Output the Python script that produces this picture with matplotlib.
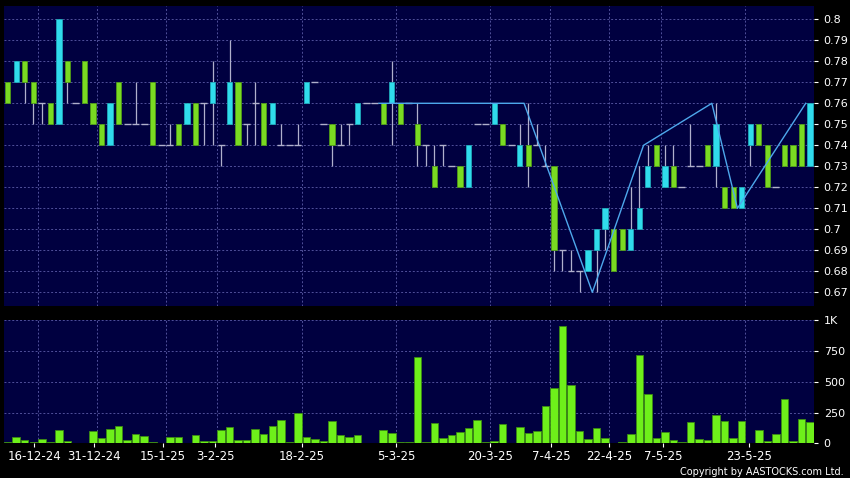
import numpy as np
import matplotlib.pyplot as plt

# daily candles (index = trading day)
opens = [.77, .77, .78, .77, .76, .76, .75, .78, .76, .78,
         .76, .75, .74, .77, .75, .75, .75, .77, .74, .74,
         .75, .75, .76, .76, .76, .74, .75, .77, .75, .76,
         .76, .75, .74, .74, .74, .76, .77, .75, .75, .74,
         .75, .75, .76, .76, .76, .76, .76, .76, .75, .74,
         .73, .74, .73, .73, .72, .75, .75, .75, .75, .74,
         .73, .74, .74, .73, .73, .69, .68, .68, .68, .69,
         .70, .70, .70, .69, .70, .72, .74, .72, .73, .72,
         .73, .73, .74, .73, .72, .72, .71, .74, .75, .74,
         .72, .74, .74, .75, .73]
highs = [.77, .78, .78, .77, .76, .76, .80, .78, .76, .78,
         .76, .75, .76, .77, .75, .77, .75, .77, .74, .75,
         .75, .76, .76, .76, .78, .74, .79, .77, .75, .77,
         .76, .76, .75, .74, .75, .77, .77, .75, .75, .75,
         .75, .76, .76, .76, .76, .78, .76, .76, .76, .74,
         .74, .74, .73, .73, .74, .75, .75, .76, .75, .74,
         .75, .76, .75, .74, .73, .69, .69, .68, .69, .70,
         .71, .70, .70, .72, .73, .74, .74, .74, .74, .72,
         .75, .73, .74, .76, .72, .72, .72, .75, .75, .74,
         .72, .74, .74, .75, .76]
lows = [.76, .77, .76, .75, .75, .75, .75, .76, .76, .76,
        .75, .74, .74, .75, .75, .75, .75, .74, .74, .74,
        .74, .75, .74, .74, .74, .73, .75, .74, .74, .74,
        .74, .75, .74, .74, .74, .76, .77, .75, .73, .74,
        .74, .75, .76, .76, .75, .74, .75, .76, .73, .73,
        .72, .73, .73, .72, .72, .75, .75, .75, .74, .74,
        .73, .72, .74, .73, .68, .68, .68, .67, .68, .67,
        .69, .68, .69, .69, .70, .72, .73, .72, .72, .72,
        .73, .73, .73, .72, .71, .71, .71, .73, .74, .72,
        .72, .73, .73, .73, .73]
closes = [.76, .78, .77, .76, .76, .75, .80, .77, .76, .76,
          .75, .74, .76, .75, .75, .75, .75, .74, .74, .74,
          .74, .76, .74, .76, .77, .74, .77, .74, .75, .76,
          .74, .76, .74, .74, .74, .77, .77, .75, .74, .74,
          .75, .76, .76, .76, .75, .77, .75, .76, .74, .74,
          .72, .74, .73, .72, .74, .75, .75, .76, .74, .74,
          .74, .73, .74, .73, .69, .69, .68, .68, .69, .70,
          .71, .68, .69, .70, .71, .73, .73, .73, .72, .72,
          .73, .73, .73, .75, .71, .71, .72, .75, .74, .72,
          .72, .73, .73, .73, .76]
volumes = [8, 51, 27, 11, 35, 11, 108, 19, 5, 5,
           97, 43, 113, 140, 27, 75, 62, 11, 3, 48,
           48, 3, 65, 19, 16, 105, 129, 24, 30, 113,
           73, 140, 186, 13, 247, 48, 38, 16, 180, 65,
           51, 67, 5, 5, 105, 81, 8, 8, 700, 8,
           164, 43, 67, 94, 126, 186, 8, 16, 159, 3,
           129, 83, 97, 301, 449, 952, 470, 100, 32, 124,
           40, 1, 8, 78, 718, 403, 43, 91, 24, 8,
           172, 32, 24, 234, 178, 43, 180, 2, 110, 19,
           75, 363, 19, 199, 175]

# zigzag pivots (bar index, price)
zz_idx = [44, 61, 69, 75, 83, 86, 94]
zz_val = [0.76, 0.76, 0.67, 0.74, 0.76, 0.71, 0.76]

tick_pos = [3.1, 10.1, 18.2, 24.3, 34.45, 45.5, 56.5, 63.7, 70.5, 76.8, 86.9]
tick_lbl = ['16-12-24', '31-12-24', '15-1-25', '3-2-25', '18-2-25', '5-3-25',
            '20-3-25', '7-4-25', '22-4-25', '7-5-25', '23-5-25']
grid_pos = [3.6, 10.5, 18.6, 24.55, 34.5, 45.5, 56.5, 63.5, 70.5, 76.5, 86.4]

price_ticks = [0.67, 0.68, 0.69, 0.70, 0.71, 0.72, 0.73, 0.74, 0.75, 0.76, 0.77, 0.78, 0.79, 0.80]
vol_ticks = [0, 250, 500, 750, 1000]
vol_lbl = ['0', '250', '500', '750', '1K']

bg = '#000040'
gridc = '#50509a'
up_c = '#30dcec'
dn_c = '#7ada22'
wick_c = '#b0b0cc'

o = np.array(opens); h = np.array(highs); l = np.array(lows); c = np.array(closes)
x = np.arange(len(o))

fig = plt.figure(figsize=(8.5, 4.78), dpi=100, facecolor='black')
ax = fig.add_axes([4/850, 1-306/478, 810/850, 300/478], facecolor=bg)
axv = fig.add_axes([4/850, 1-443.3/478, 810/850, 123.8/478], facecolor=bg)

for a in (ax, axv):
    for s in a.spines.values():
        s.set_visible(False)
    a.set_xlim(-0.43, 94.47)
    for g in grid_pos:
        a.axvline(g, color=gridc, lw=0.7, ls=(0, (2, 2)), zorder=0)
    a.yaxis.tick_right()
    a.tick_params(axis='y', colors='white', labelsize=8, length=3, width=0.8, pad=4)

for p in price_ticks:
    ax.axhline(p, color=gridc, lw=0.7, ls=(0, (2, 2)), zorder=0)
for v in vol_ticks[1:]:
    axv.axhline(v, color=gridc, lw=0.7, ls=(0, (2, 2)), zorder=0)

# wicks
ax.vlines(x, l, h, color=wick_c, lw=0.9, zorder=2)
# bodies
body = np.abs(c - o) > 1e-9
up = c > o
w = 0.62
ax.bar(x[body & up], (c - o)[body & up], bottom=o[body & up], width=w,
       color=up_c, edgecolor='#1fa8b8', lw=0.6, zorder=3)
ax.bar(x[body & ~up], (o - c)[body & ~up], bottom=c[body & ~up], width=w,
       color=dn_c, edgecolor='#4f9a18', lw=0.6, zorder=3)
doji = ~body
ax.hlines(o[doji], x[doji] - w/2 - 0.1, x[doji] + w/2 + 0.1, color=wick_c, lw=1.0, zorder=2)

ax.plot(np.array(zz_idx) - 0.5, zz_val, color='#4ea8ec', lw=1.0, zorder=4)

ax.set_ylim(0.66348, 0.80633)
ax.set_yticks(price_ticks)
ax.set_yticklabels([f'{p:g}' for p in price_ticks])
ax.set_xticks([])

axv.bar(x, volumes, width=0.88, color='#6ef01a', edgecolor='#3c8a14', lw=0.6, zorder=3)
axv.set_ylim(0, 1006)
axv.set_yticks(vol_ticks)
axv.set_yticklabels(vol_lbl)
axv.set_xticks(tick_pos)
axv.set_xticklabels(tick_lbl)
axv.tick_params(axis='x', colors='white', labelsize=8.5, length=3, width=0.8, pad=2)

fig.text(0.993, 0.002, 'Copyright by AASTOCKS.com Ltd.', ha='right', va='bottom',
         color='white', fontsize=7)

fig.savefig('out.png', dpi=100, facecolor='black')
